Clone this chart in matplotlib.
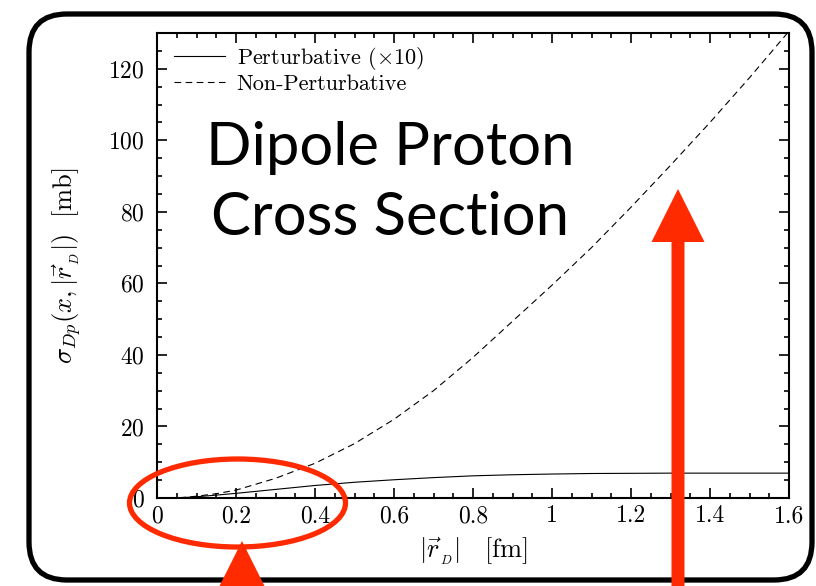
import matplotlib
matplotlib.use("Agg")
import matplotlib.pyplot as plt
from matplotlib.patches import FancyBboxPatch, Ellipse, FancyArrow
from matplotlib.transforms import IdentityTransform
from matplotlib.ticker import MultipleLocator

# values
r_fm = [0.0, 0.05, 0.1, 0.15, 0.2, 0.3, 0.4, 0.5, 0.6, 0.7, 0.8, 0.9, 1.0, 1.1, 1.2, 1.3, 1.4, 1.5, 1.6]
sigma_pert = [0.0, 0.0, 0.35, 0.8, 1.3, 2.4, 3.5, 4.4, 5.1, 5.7, 6.2, 6.5, 6.7, 6.85, 6.9, 6.95, 6.95, 6.95, 6.95]
sigma_nonpert = [0.0, 0.0, 0.5, 1.2, 2.2, 5.5, 9.7, 15.2, 22.0, 30.0, 39.3, 49.4, 59.5, 70.0, 81.3, 93.0, 105.0, 117.5, 130.5]
series_labels = [r"Perturbative $(\times 10)$", "Non-Perturbative"]
title_lines = ["Dipole Proton", "Cross Section"]

plt.rcParams["mathtext.fontset"] = "cm"
plt.rcParams["font.family"] = ["cmr10", "DejaVu Serif"]
plt.rcParams["axes.formatter.use_mathtext"] = True

W, H = 816, 586
fig = plt.figure(figsize=(W / 100, H / 100), dpi=100)
ax = fig.add_axes([157 / W, (H - 498) / H, 632 / W, 465 / H])

ax.plot(r_fm, sigma_pert, color="black", lw=0.8, label=series_labels[0])
ax.plot(r_fm, sigma_nonpert, color="black", lw=0.8, ls=(0, (6, 4)), label=series_labels[1])

ax.set_xlim(0, 1.6)
ax.set_ylim(0, 130)
ax.xaxis.set_minor_locator(MultipleLocator(0.05))
ax.yaxis.set_major_locator(MultipleLocator(20))
ax.yaxis.set_minor_locator(MultipleLocator(5))
ax.set_xticks([0, 0.2, 0.4, 0.6, 0.8, 1.0, 1.2, 1.4, 1.6])
ax.set_xticklabels(["0", "0.2", "0.4", "0.6", "0.8", "1", "1.2", "1.4", "1.6"])
ax.tick_params(which="both", direction="in", top=True, right=True, labelsize=17, width=1.2)
ax.tick_params(which="major", length=7, pad=5)
ax.tick_params(which="minor", length=3.5)
ax.tick_params(axis="y", which="major", pad=9)
for s in ax.spines.values():
    s.set_linewidth(1.5)

ax.set_xlabel(r"$|\vec{r}_{_D}|\quad[\mathrm{fm}]$", fontsize=19, labelpad=6)
ax.set_ylabel(r"$\sigma_{Dp}(x,|\vec{r}_{_D}|)\ \ [\mathrm{mb}]$", fontsize=19, labelpad=17)

leg = ax.legend(loc="upper left", bbox_to_anchor=(0.008, 1.0), frameon=False, fontsize=16,
                handlelength=2.3, borderaxespad=0.15, labelspacing=0.1, handletextpad=0.5)

# big title text inside the axes
fig.text(390 / W, 1 - 148 / H, title_lines[0], family="Lato", fontsize=43,
         ha="center", va="center")
fig.text(390 / W, 1 - 218 / H, title_lines[1], family="Lato", fontsize=43,
         ha="center", va="center")

# slide decorations, in pixel coordinates
px = IdentityTransform()
box = FancyBboxPatch((29, H - 580), 783, 566, boxstyle="round,pad=0,rounding_size=38",
                     transform=px, fill=False, ec="black", lw=3.8, zorder=0)
fig.patches.append(box)

red = "#ff2a00"
ell = Ellipse((237.5, H - 503), 216, 88, transform=px, fill=False, ec=red, lw=3.8)
fig.patches.append(ell)

arr1 = FancyArrow(678, -5, 0, (H - 189) + 5, width=13, head_width=53, head_length=53,
                  length_includes_head=True, transform=px, color=red, lw=0)
fig.patches.append(arr1)
arr2 = FancyArrow(242, -80, 0, (H - 541) + 80, width=13, head_width=53, head_length=53,
                  length_includes_head=True, transform=px, color=red, lw=0)
fig.patches.append(arr2)

fig.savefig("out.png", dpi=100)
